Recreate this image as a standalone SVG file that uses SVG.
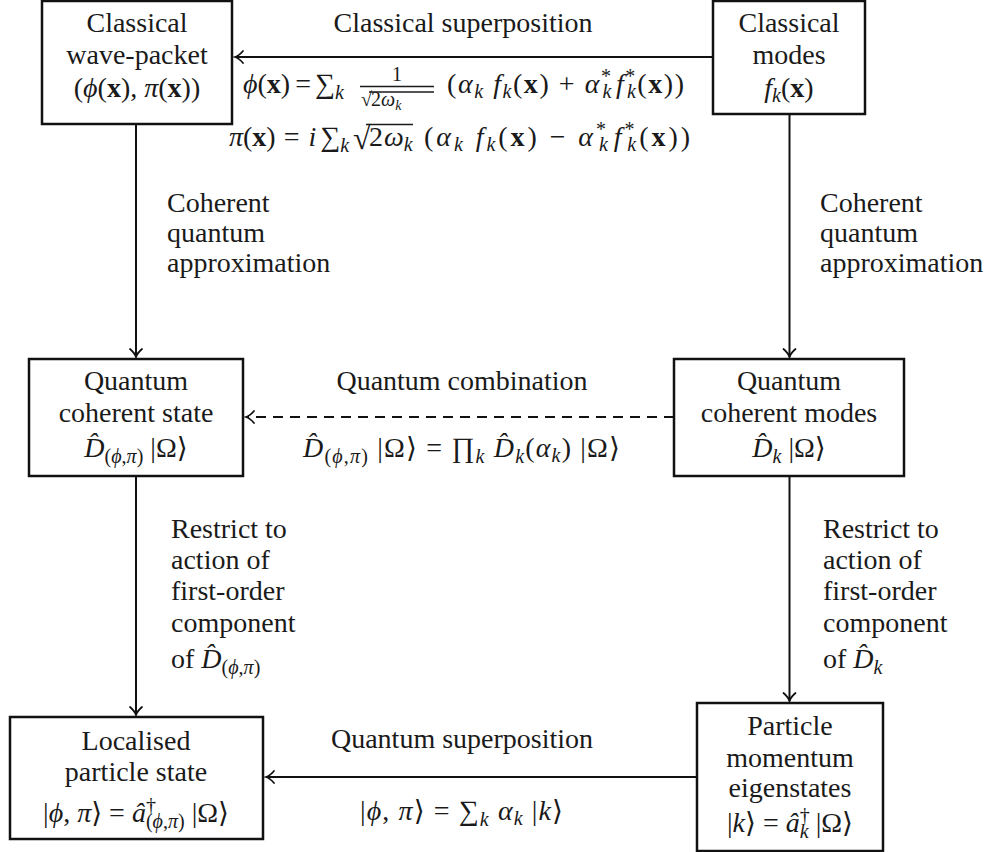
<svg xmlns="http://www.w3.org/2000/svg" width="997" height="852" viewBox="0 0 997 852">
<style>
text{font-family:"Liberation Serif","DejaVu Serif",serif;font-size:28px;fill:#1a1a1a}
.i{font-style:italic}
.b{font-weight:bold}
.s{font-size:20px}
.xs{font-size:14px}
.m{text-anchor:middle}
.box{fill:#fff;stroke:#111;stroke-width:2.5}
.ln{fill:none;stroke:#111;stroke-width:2}
.dash{stroke-dasharray:10 7}
.rule{stroke:#1a1a1a;stroke-width:1.3}
</style>
<defs>
<marker id="ar" markerUnits="userSpaceOnUse" markerWidth="16" markerHeight="16" refX="0" refY="0" viewBox="-10 -8 12 16" orient="auto">
<path d="M-8,-6 C-5,-2.5 -2,-0.6 0,0 C-2,0.6 -5,2.5 -8,6" fill="none" stroke="#111" stroke-width="1.8" stroke-linecap="round"/>
</marker>
</defs>

<g id="connectors">
<path class="ln" d="M713,57 L235,57" marker-end="url(#ar)"/>
<path class="ln" d="M136,124 L136,357" marker-end="url(#ar)"/>
<path class="ln" d="M789.5,114 L789.5,357" marker-end="url(#ar)"/>
<path class="ln dash" d="M674,417 L246,417" marker-end="url(#ar)"/>
<path class="ln" d="M136,476 L136,715" marker-end="url(#ar)"/>
<path class="ln" d="M789.5,476 L789.5,701" marker-end="url(#ar)"/>
<path class="ln" d="M697,777 L266,777" marker-end="url(#ar)"/>

<text class="m" x="463" y="32">Classical superposition</text>
<g id="eq-phi">
<text x="243" y="93"><tspan class="i">ϕ</tspan>(<tspan class="b">x</tspan>)<tspan dx="5">=</tspan><tspan dx="4">∑</tspan><tspan class="s i" dy="6">k</tspan></text>
<text class="s m" x="397" y="81">1</text>
<line class="rule" x1="360" y1="86.5" x2="434" y2="86.5"/>
<text class="s" x="361" y="106">√</text>
<line class="rule" x1="369" y1="92" x2="434" y2="92"/>
<text class="s" x="371" y="106">2<tspan class="i">ω</tspan><tspan class="xs i" dy="4">k</tspan></text>
<text x="447" y="93" textLength="237" lengthAdjust="spacing">(<tspan class="i">α</tspan><tspan class="s i" dy="5">k</tspan><tspan class="i" dy="-5"> f</tspan><tspan class="s i" dy="5">k</tspan><tspan dy="-5">(</tspan><tspan class="b">x</tspan>) + <tspan class="i">α</tspan><tspan class="s" dy="-10">*</tspan><tspan class="s i" dx="-10" dy="15">k</tspan><tspan class="i" dx="3" dy="-5">f</tspan><tspan class="s" dy="-10">*</tspan><tspan class="s i" dx="-10" dy="15">k</tspan><tspan dy="-5">(</tspan><tspan class="b">x</tspan>))</text>
</g>
<g id="eq-pi">
<text x="229" y="146"><tspan class="i">π</tspan>(<tspan class="b">x</tspan>)<tspan dx="8">=</tspan><tspan class="i" dx="9">i</tspan><tspan dx="4">∑</tspan><tspan class="s i" dy="6">k</tspan></text>
<text x="353" y="149" style="font-size:32px">√</text>
<line class="rule" x1="366" y1="124.5" x2="413" y2="124.5"/>
<text x="369" y="146">2<tspan class="i" dx="1">ω</tspan><tspan class="s i" dy="5">k</tspan></text>
<text x="424" y="146" textLength="266" lengthAdjust="spacing">(<tspan class="i">α</tspan><tspan class="s i" dy="5">k</tspan><tspan class="i" dy="-5"> f</tspan><tspan class="s i" dy="5">k</tspan><tspan dy="-5">(</tspan><tspan class="b">x</tspan>) − <tspan class="i">α</tspan><tspan class="s" dy="-10">*</tspan><tspan class="s i" dx="-10" dy="15">k</tspan><tspan class="i" dx="3" dy="-5">f</tspan><tspan class="s" dy="-10">*</tspan><tspan class="s i" dx="-10" dy="15">k</tspan><tspan dy="-5">(</tspan><tspan class="b">x</tspan>))</text>
</g>

<text x="167" y="212">Coherent</text>
<text x="167" y="242">quantum</text>
<text x="167" y="272">approximation</text>
<text x="820" y="212">Coherent</text>
<text x="820" y="242">quantum</text>
<text x="820" y="272">approximation</text>

<text class="m" x="462" y="390">Quantum combination</text>
<text x="303" y="457" textLength="317" lengthAdjust="spacing"><tspan class="i">D̂</tspan><tspan class="s" dy="6">(<tspan class="i">ϕ</tspan>,<tspan class="i">π</tspan>)</tspan><tspan dy="-6"> |Ω⟩ = ∏</tspan><tspan class="s i" dy="6">k</tspan><tspan class="i" dy="-6"> D̂</tspan><tspan class="s i" dy="6">k</tspan><tspan dy="-6">(</tspan><tspan class="i">α</tspan><tspan class="s i" dy="5">k</tspan><tspan dy="-5">) |Ω⟩</tspan></text>

<text x="171" y="538">Restrict to</text>
<text x="171" y="569">action of</text>
<text x="171" y="600">first-order</text>
<text x="171" y="632">component</text>
<text x="171" y="668">of <tspan class="i">D̂</tspan><tspan class="s" dy="6">(<tspan class="i">ϕ</tspan>,<tspan class="i">π</tspan>)</tspan></text>
<text x="823" y="538">Restrict to</text>
<text x="823" y="569">action of</text>
<text x="823" y="600">first-order</text>
<text x="823" y="632">component</text>
<text x="823" y="668">of <tspan class="i">D̂</tspan><tspan class="s i" dy="6">k</tspan></text>

<text class="m" x="462" y="748">Quantum superposition</text>
<text x="360" y="820" textLength="203" lengthAdjust="spacing">|<tspan class="i">ϕ</tspan>, <tspan class="i">π</tspan>⟩ = ∑<tspan class="s i" dy="6">k</tspan><tspan class="i" dy="-6"> α</tspan><tspan class="s i" dy="5">k</tspan><tspan dy="-5"> |</tspan><tspan class="i">k</tspan>⟩</text>
</g>

<g id="classical-wave-packet">
<rect class="box" x="42" y="1" width="190" height="123"/>
<text class="m" x="137" y="32">Classical</text>
<text class="m" x="137" y="64">wave-packet</text>
<text class="m" x="137" y="97">(<tspan class="i">ϕ</tspan>(<tspan class="b">x</tspan>), <tspan class="i">π</tspan>(<tspan class="b">x</tspan>))</text>
</g>
<g id="classical-modes">
<rect class="box" x="713" y="1" width="152" height="113"/>
<text class="m" x="789" y="32">Classical</text>
<text class="m" x="789" y="64">modes</text>
<text class="m" x="789" y="97"><tspan class="i">f</tspan><tspan class="s i" dy="5">k</tspan><tspan dy="-5">(</tspan><tspan class="b">x</tspan>)</text>
</g>
<g id="quantum-coherent-state">
<rect class="box" x="29" y="359" width="214" height="117"/>
<text class="m" x="136" y="390">Quantum</text>
<text class="m" x="136" y="422">coherent state</text>
<text class="m" x="136" y="457"><tspan class="i">D̂</tspan><tspan class="s" dy="6">(<tspan class="i">ϕ</tspan>,<tspan class="i">π</tspan>)</tspan><tspan dy="-6"> |Ω⟩</tspan></text>
</g>
<g id="quantum-coherent-modes">
<rect class="box" x="674" y="359" width="230" height="117"/>
<text class="m" x="789" y="390">Quantum</text>
<text class="m" x="789" y="422">coherent modes</text>
<text class="m" x="789" y="457"><tspan class="i">D̂</tspan><tspan class="s i" dy="6">k</tspan><tspan dy="-6"> |Ω⟩</tspan></text>
</g>
<g id="localised-particle-state">
<rect class="box" x="10" y="717" width="253" height="122"/>
<text class="m" x="136" y="750">Localised</text>
<text class="m" x="136" y="781">particle state</text>
<text class="m" x="136" y="822">|<tspan class="i">ϕ</tspan>, <tspan class="i">π</tspan>⟩ = <tspan class="i">â</tspan><tspan class="s" dy="-10">†</tspan><tspan class="s" dx="-10" dy="16">(<tspan class="i">ϕ</tspan>,<tspan class="i">π</tspan>)</tspan><tspan dy="-6"> |Ω⟩</tspan></text>
</g>
<g id="particle-momentum-eigenstates">
<rect class="box" x="697" y="703" width="186" height="148"/>
<text class="m" x="790" y="735">Particle</text>
<text class="m" x="790" y="767">momentum</text>
<text class="m" x="790" y="797">eigenstates</text>
<text class="m" x="790" y="832">|<tspan class="i">k</tspan>⟩ = <tspan class="i">â</tspan><tspan class="s" dy="-10">†</tspan><tspan class="s i" dx="-10" dy="16">k</tspan><tspan dy="-6"> |Ω⟩</tspan></text>
</g>
</svg>
